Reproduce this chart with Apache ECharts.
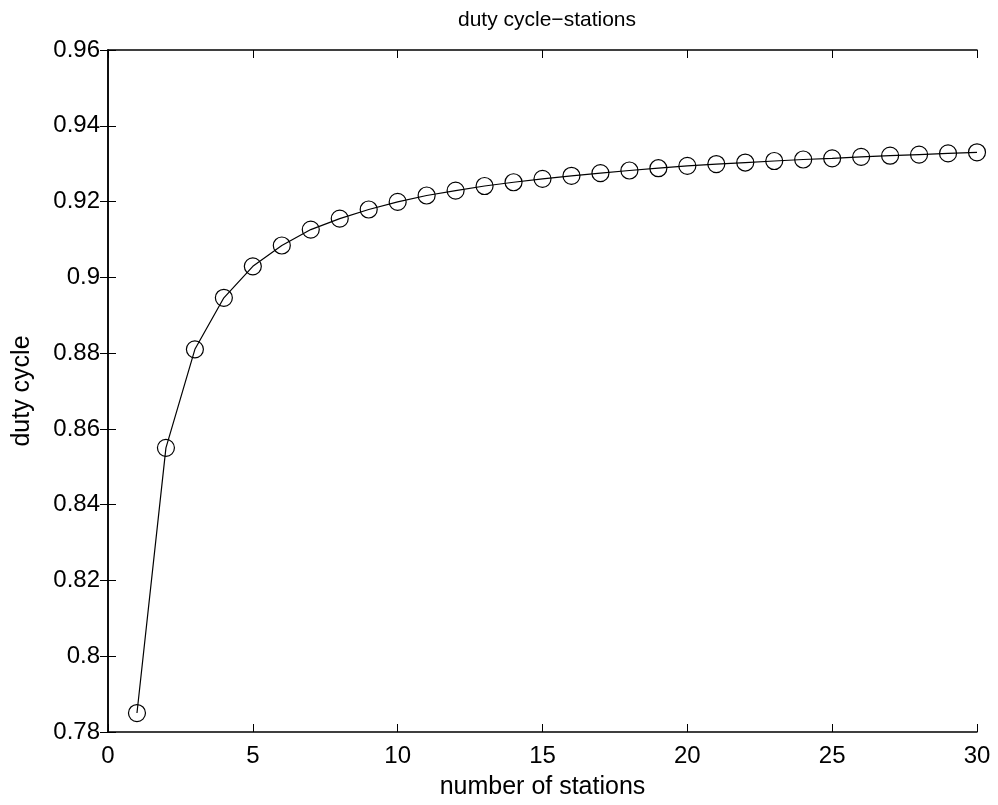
<!DOCTYPE html>
<html>
<head>
<meta charset="utf-8">
<script src="https://cdn.jsdelivr.net/npm/echarts@6/dist/echarts.min.js"></script>
<style>
html,body{margin:0;padding:0;background:#fff;}
#chart{width:998px;height:805px;}
</style>
</head>
<body>
<div id="chart"></div>
<script>
const stations = [1,2,3,4,5,6,7,8,9,10,11,12,13,14,15,16,17,18,19,20,21,22,23,24,25,26,27,28,29,30];
const dutyCycle = [0.785,0.855,0.881,0.8946,0.9029,0.9084,0.9126,0.9155,0.9179,0.9199,
  0.9216,0.9229,0.9241,0.9251,0.9260,0.9268,0.9275,0.9282,0.9288,0.9294,
  0.9299,0.9303,0.9307,0.9311,0.9314,0.9318,0.9321,0.9324,0.9327,0.9330];
const titleText = 'duty cycle\u2212stations';
const xLabel = 'number of stations';
const yLabel = 'duty cycle';

const FONT = '"Liberation Sans", Arial, Helvetica, sans-serif';
const chart = echarts.init(document.getElementById('chart'), null, {renderer:'canvas'});
const axisLine = {show:true, lineStyle:{color:'#000', width:1.5}};
const tick = {show:true, inside:true, length:8, lineStyle:{color:'#000', width:1}};
const label = {color:'#000', fontSize:24, fontFamily:FONT};
chart.setOption({
  animation:false,
  backgroundColor:'#fff',
  title:{text:titleText, left:542, textAlign:'center', top:5,
    textStyle:{fontSize:21, fontWeight:'normal', color:'#000', fontFamily:FONT}},
  grid:{left:108, right:21, top:50, bottom:72, containLabel:false},
  xAxis:[
    {type:'value', min:0, max:30, interval:5, position:'bottom',
     name:xLabel, nameLocation:'middle', nameGap:43,
     nameTextStyle:{color:'#000', fontSize:25, fontFamily:FONT},
     axisLine:axisLine, axisTick:tick, splitLine:{show:false},
     axisLabel:Object.assign({margin:12}, label)},
    {type:'value', min:0, max:30, interval:5, position:'top',
     axisLine:axisLine, axisTick:tick, splitLine:{show:false}, axisLabel:{show:false}}
  ],
  yAxis:[
    {type:'value', min:0.78, max:0.96, interval:0.02, position:'left',
     name:yLabel, nameLocation:'middle', nameGap:73, nameRotate:90,
     nameTextStyle:{color:'#000', fontSize:25, fontFamily:FONT},
     axisLine:axisLine, axisTick:tick, splitLine:{show:false},
     axisLabel:Object.assign({margin:8}, label)},
    {type:'value', min:0.78, max:0.96, interval:0.02, position:'right',
     axisLine:axisLine, axisTick:tick, splitLine:{show:false}, axisLabel:{show:false}}
  ],
  series:[{
    type:'line',
    data:stations.map((s,i)=>[s, dutyCycle[i]]),
    xAxisIndex:0, yAxisIndex:0,
    symbol:'circle', symbolSize:17, showAllSymbol:true,
    lineStyle:{color:'#000', width:1.2},
    itemStyle:{color:'rgba(0,0,0,0)', borderColor:'#000', borderWidth:1.2},
    clip:false
  }]
});
</script>
</body>
</html>
